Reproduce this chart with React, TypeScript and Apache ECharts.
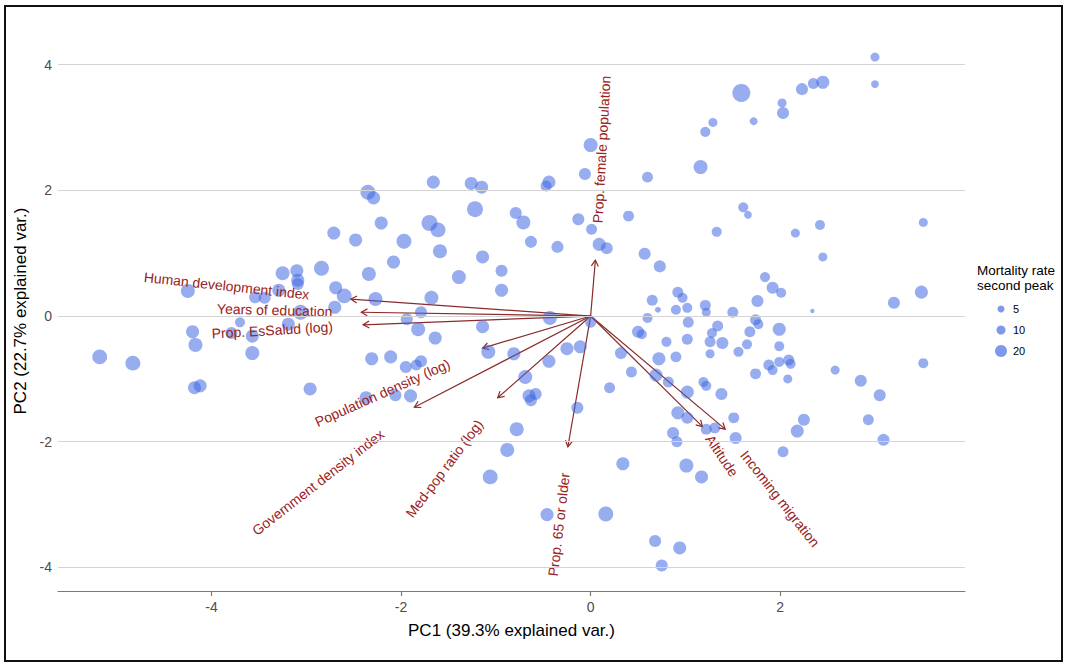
import React, { useEffect, useRef } from "react";
import * as echarts from "echarts";

// ---- Scores (PC1, PC2) and mortality rate of the second peak ----
const PC1 = [
  3.0, 3.0, 1.59, 2.23, 2.35, 2.45, 2.02, 2.03, 1.72, 1.29, 1.21, 1.16, 0.6, 0.4, 1.61, 1.66, 1.33, 2.16, 2.42, 2.45,
  3.51, 0.57, 0.73, 1.84, 1.92, 2.01, 1.76, 0.65, 0.71, 0.92, 0.97, 0.9, 1.02, 1.21, 1.22, 1.5, 2.34, 3.2, 3.49, 0.6,
  1.03, 1.34, 1.74, 1.77, 1.99, 0.5, 0.54, 0.8, 1.02, 1.28, 1.26, 1.39, 1.68, 1.65, 1.56, 1.99, 1.26, 0.9, 0.72, 0.32,
  0.43, 1.88, 1.92, 1.99, 2.09, 2.11, 2.08, 1.74, 2.58, 2.85, 3.05, 3.51, 0.69, 0.82, 1.19, 1.22, 1.02, 1.38, 0.92, 1.02,
  0.87, 0.91, 1.22, 1.31, 1.51, 1.53, 2.25, 2.18, 2.93, 3.09, 2.03, 0.34, 1.01, 1.17, 0.68, 0.94, 0.75, 0.0, -1.66, -1.26,
  -1.15, -0.44, -0.47, -0.06, -1.22, -0.79, -0.71, -0.13, 0.01, 0.09, 0.17, -1.7, -1.61, -1.97, -1.59, -0.63, -0.35, -1.14, -1.39, -0.94,
  -0.94, -2.08, -1.68, -1.79, -1.94, -1.82, -1.64, -1.14, -0.43, 0.0, -1.08, -0.81, -0.25, -0.11, -0.44, -2.11, -1.95, -1.79, -1.84, -0.69,
  -2.06, -1.9, -0.65, -0.58, -0.63, 0.2, -0.14, -0.78, -0.88, -1.06, -0.46, 0.16, -2.35, -2.29, -2.21, -2.71, -2.48, -2.84, -3.25, -3.1,
  -3.09, -3.09, -2.34, -3.29, -2.69, -2.6, -2.27, -3.54, -3.44, -4.25, -2.7, -3.06, -3.19, -3.7, -4.2, -4.17, -3.79, -3.57, -3.57, -5.18,
  -4.83, -4.18, -4.12, -2.96, -2.31, -2.37,
];
const PC2 = [
  4.12, 3.69, 3.55, 3.61, 3.7, 3.72, 3.39, 3.23, 3.1, 3.08, 2.93, 2.37, 2.21, 1.59, 1.73, 1.61, 1.34, 1.32, 1.45, 0.94,
  1.49, 0.99, 0.79, 0.62, 0.45, 0.37, 0.24, 0.25, 0.1, 0.38, 0.29, 0.1, 0.13, 0.17, 0.06, 0.06, 0.08, 0.21, 0.38, -0.03,
  -0.1, -0.16, -0.06, -0.13, -0.21, -0.25, -0.29, -0.41, -0.37, -0.27, -0.41, -0.43, -0.25, -0.45, -0.57, -0.48, -0.6, -0.65, -0.68, -0.59,
  -0.89, -0.78, -0.86, -0.73, -0.7, -0.76, -1.0, -0.92, -0.86, -1.03, -1.26, -0.75, -0.94, -1.05, -1.05, -1.11, -1.21, -1.24, -1.54, -1.62,
  -1.86, -2.0, -1.8, -1.78, -1.62, -1.94, -1.65, -1.83, -1.65, -1.97, -2.16, -2.35, -2.38, -2.56, -3.58, -3.69, -3.97, 2.72, 2.13, 2.11,
  2.05, 2.13, 2.07, 2.26, 1.7, 1.64, 1.49, 1.54, 1.38, 1.14, 1.08, 1.48, 1.37, 1.19, 1.03, 1.18, 1.1, 0.94, 0.62, 0.72,
  0.41, 0.86, 0.29, 0.06, -0.05, -0.21, -0.35, -0.17, -0.03, -0.1, -0.57, -0.6, -0.52, -0.49, -0.72, -0.65, -0.81, -0.72, -0.78, -0.97,
  -1.26, -1.27, -1.27, -1.24, -1.34, -1.14, -1.46, -1.8, -2.13, -2.56, -3.16, -3.15, 1.97, 1.88, 1.48, 1.32, 1.21, 0.76, 0.68, 0.72,
  0.57, 0.51, 0.67, 0.41, 0.45, 0.32, 0.27, 0.3, 0.29, 0.4, 0.14, 0.06, -0.13, -0.1, -0.25, -0.46, -0.27, -0.32, -0.59, -0.65,
  -0.75, -1.14, -1.11, -1.16, -0.68, -1.3,
];
const MORTALITY = [
  10, 7, 48, 20, 16, 24, 10, 20, 7, 10, 13, 28, 16, 16, 13, 7, 13, 10, 13, 10,
  10, 20, 20, 13, 20, 13, 20, 16, 3, 16, 13, 13, 13, 16, 10, 16, 0.3, 20, 24, 13,
  16, 16, 16, 13, 24, 20, 13, 13, 16, 13, 16, 20, 16, 13, 13, 13, 10, 16, 24, 20,
  16, 16, 13, 13, 16, 13, 10, 16, 10, 20, 20, 13, 24, 16, 13, 13, 24, 20, 24, 20,
  20, 16, 16, 16, 16, 20, 20, 24, 16, 20, 16, 24, 28, 24, 20, 24, 20, 28, 24, 24,
  24, 24, 16, 20, 37, 20, 28, 20, 16, 24, 20, 37, 32, 32, 28, 20, 20, 24, 28, 20,
  24, 24, 28, 20, 20, 28, 24, 24, 28, 16, 28, 24, 24, 24, 24, 24, 20, 20, 16, 28,
  20, 24, 24, 20, 20, 16, 20, 28, 28, 32, 24, 32, 32, 24, 24, 24, 24, 32, 28, 24,
  24, 20, 28, 24, 24, 32, 28, 20, 20, 28, 24, 32, 24, 13, 24, 28, 20, 24, 28, 32,
  32, 24, 24, 24, 24, 24,
];

// ---- Variable loadings (arrows) ----
const VAR_NAMES = [
  "Human development index",
  "Years of education",
  "Prop. EsSalud (log)",
  "Population density (log)",
  "Government density index",
  "Med-pop ratio (log)",
  "Prop. 65 or older",
  "Prop. female population",
  "Altitude",
  "Incoming migration",
];
const LOAD_PC1 = [-2.53, -2.42, -2.4, -1.14, -1.86, -0.98, -0.24, 0.05, 1.18, 1.42];
const LOAD_PC2 = [0.27, 0.06, -0.14, -0.51, -1.45, -1.3, -2.08, 0.89, -1.76, -1.8];

// ---- Axis ticks / legend ----
const X_TICKS = [-4, -2, 0, 2];
const Y_TICKS = [-4, -2, 0, 2, 4];
const LEGEND_VALUES = [5, 10, 20];
const X_TITLE = "PC1 (39.3% explained var.)";
const Y_TITLE = "PC2 (22.7% explained var.)";
const LEGEND_TITLE = "Mortality rate\nsecond peak";

const FONT = "'Liberation Sans', Arial, Helvetica, sans-serif";
const POINT_COLOR = "rgba(65,105,225,0.68)";
const ARROW_COLOR = "#8a2a2a";
const TEXT_COLOR = "#992222";
const VAR_FONT_SIZE = 14;

const sizeOf = (v: number) => Math.sqrt(17 + 6.4 * v);

export default function App() {
  const ref = useRef<HTMLDivElement>(null);

  useEffect(() => {
    if (!ref.current) return;
    const chart = echarts.init(ref.current, null, { renderer: "svg" });

    const ctx = document.createElement("canvas").getContext("2d");
    const varFont = `${VAR_FONT_SIZE}px ${FONT}`;
    const measure = (t: string) => {
      if (!ctx) return t.length * 7;
      ctx.font = varFont;
      return ctx.measureText(t).width;
    };

    const points = PC1.map((x, i) => [x, PC2[i], MORTALITY[i]]);
    const loads = LOAD_PC1.map((x, i) => [x, LOAD_PC2[i], i]);

    const legendTop = 300;
    const legendGap = 21;
    const legendCx = 1001;

    const option: any = {
      animation: false,
      backgroundColor: "#ffffff",
      grid: { left: 58, right: 103, top: 31, bottom: 73 },
      xAxis: {
        type: "value",
        min: -5.62,
        max: 3.95,
        name: X_TITLE,
        nameLocation: "middle",
        nameGap: 31,
        nameTextStyle: { fontSize: 17, color: "#000", fontFamily: FONT },
        axisLine: { show: true, onZero: false, lineStyle: { color: "#7a7a7a", width: 1.2 } },
        axisTick: { show: true, length: 5, customValues: X_TICKS, lineStyle: { color: "#7a7a7a", width: 1.2 } },
        axisLabel: {
          customValues: X_TICKS,
          fontSize: 14,
          color: "#4d4d4d",
          fontFamily: FONT,
          margin: 9,
          formatter: (v: number) => String(v),
        },
        splitLine: { show: false },
      },
      yAxis: {
        type: "value",
        min: -4.375,
        max: 4.535,
        name: Y_TITLE,
        nameLocation: "middle",
        nameGap: 27,
        nameTextStyle: { fontSize: 17, color: "#000", fontFamily: FONT },
        axisLine: { show: false },
        axisTick: { show: false, customValues: Y_TICKS },
        axisLabel: {
          customValues: Y_TICKS,
          fontSize: 14,
          color: "#4d4d4d",
          fontFamily: FONT,
          margin: 6,
          formatter: (v: number) => String(v),
        },
        splitLine: { show: false },
      },
      series: [
        {
          type: "custom",
          name: "arrows",
          z: 1,
          silent: true,
          data: loads,
          renderItem: (params: any, api: any) => {
            const x = api.value(0);
            const y = api.value(1);
            const p0 = api.coord([0, 0]);
            const p1 = api.coord([x, y]);
            const ang = Math.atan2(p1[1] - p0[1], p1[0] - p0[0]);
            const L = 7;
            const a = Math.PI / 6;
            const h1 = [p1[0] - L * Math.cos(ang - a), p1[1] - L * Math.sin(ang - a)];
            const h2 = [p1[0] - L * Math.cos(ang + a), p1[1] - L * Math.sin(ang + a)];
            return {
              type: "group",
              children: [
                {
                  type: "line",
                  shape: { x1: p0[0], y1: p0[1], x2: p1[0], y2: p1[1] },
                  style: { stroke: ARROW_COLOR, lineWidth: 1.2 },
                },
                {
                  type: "polyline",
                  shape: { points: [h1, p1, h2] },
                  style: { stroke: ARROW_COLOR, fill: null, lineWidth: 1.2 },
                },
              ],
            };
          },
          markLine: {
            silent: true,
            symbol: ["none", "none"],
            label: { show: false },
            lineStyle: { color: "#d4d4d4", width: 1.1, type: "solid" },
            data: Y_TICKS.map((v) => ({ yAxis: v })),
          },
        },
        {
          type: "scatter",
          name: "points",
          z: 2,
          data: points,
          symbolSize: (val: number[]) => sizeOf(val[2]),
          itemStyle: { color: POINT_COLOR },
        },
        {
          type: "custom",
          name: "labels",
          z: 3,
          silent: true,
          data: loads,
          renderItem: (params: any, api: any) => {
            const x = api.value(0);
            const y = api.value(1);
            const idx = api.value(2);
            const name = VAR_NAMES[idx];
            const p1 = api.coord([x, y]);
            const theta = Math.atan(y / x);
            const hjust = (1 - 1.5 * Math.sign(x)) / 2;
            const w = measure(name);
            return {
              type: "text",
              x: p1[0],
              y: p1[1],
              rotation: theta,
              style: {
                text: name,
                x: -hjust * w,
                y: 0,
                align: "left",
                verticalAlign: "middle",
                fill: TEXT_COLOR,
                font: varFont,
              },
            };
          },
        },
      ],
      graphic: [
        {
          type: "rect",
          silent: true,
          shape: { x: 5, y: 6, width: 1057, height: 655 },
          style: { fill: "transparent", stroke: "#111", lineWidth: 2 },
        },
        {
          type: "text",
          x: 977,
          y: 263,
          style: {
            text: LEGEND_TITLE,
            font: `13.5px ${FONT}`,
            fill: "#000",
            lineHeight: 15,
          },
        },
        ...LEGEND_VALUES.map((v, i) => ({
          type: "circle",
          shape: { cx: legendCx, cy: legendTop + 9 + i * legendGap, r: sizeOf(v) / 2 },
          style: { fill: POINT_COLOR },
        })),
        ...LEGEND_VALUES.map((v, i) => ({
          type: "text",
          x: 1013,
          y: legendTop + 9 + i * legendGap,
          style: {
            text: String(v),
            font: `11px ${FONT}`,
            fill: "#000",
            verticalAlign: "middle",
          },
        })),
      ],
    };

    chart.setOption(option);
    return () => chart.dispose();
  }, []);

  return (
    <div
      ref={ref}
      style={{ position: "fixed", left: 0, top: 0, width: 1068, height: 664, background: "#fff" }}
    />
  );
}
